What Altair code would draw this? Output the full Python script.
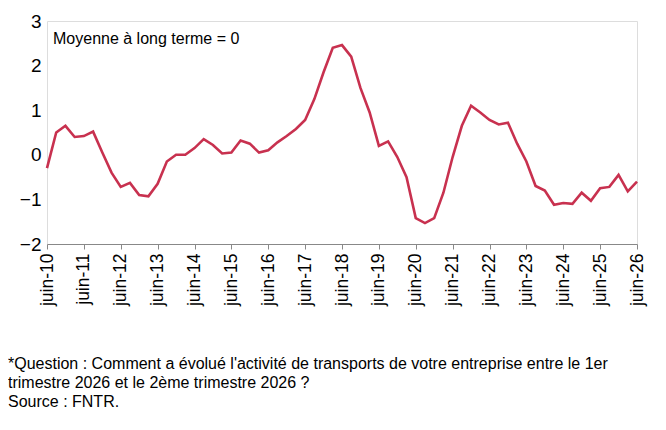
import altair as alt
import pandas as pd

values = [-0.3,0.5,0.65,0.4,0.42,0.52,0.05,-0.4,-0.72,-0.63,-0.9,-0.93,-0.65,-0.15,0.0,0.0,
          0.15,0.35,0.22,0.03,0.05,0.32,0.25,0.05,0.1,0.28,0.42,0.58,0.78,1.25,1.85,2.4,
          2.46,2.2,1.5,0.95,0.2,0.3,-0.05,-0.5,-1.42,-1.53,-1.42,-0.85,-0.05,0.65,1.1,0.95,
          0.78,0.68,0.72,0.25,-0.15,-0.7,-0.8,-1.12,-1.08,-1.1,-0.85,-1.03,-0.75,-0.72,-0.45,-0.82,-0.6]
idx = list(range(len(values)))
tick_vals = list(range(0, 65, 4))
notes = ["*Question : Comment a évolué l'activité de transports de votre entreprise entre le 1er",
         "trimestre 2026 et le 2ème trimestre 2026 ?",
         "Source : FNTR."]

df = pd.DataFrame({"i": idx, "v": values})
W, H = 590, 223

line = alt.Chart(df).mark_line(color="#C8314F", strokeWidth=2.6).encode(
    x=alt.X("i:Q", scale=alt.Scale(domain=[0, 64], nice=False),
            axis=alt.Axis(values=tick_vals, labelExpr="'juin-' + (10 + datum.value/4)",
                          labelAngle=270, labelAlign="right", labelBaseline="middle",
                          labelFontSize=17.5, labelColor="black", labelPadding=4,
                          domainColor="#888", tickColor="#888", tickSize=5, grid=False, title=None)),
    y=alt.Y("v:Q", scale=alt.Scale(domain=[-2, 3], nice=False),
            axis=alt.Axis(values=[-2,-1,0,1,2,3], labelFontSize=19, labelColor="black",
                          domain=False, ticks=False, grid=False, title=None, labelPadding=6)),
)

ann = alt.Chart(pd.DataFrame({"t": ["Moyenne à long terme = 0"]})).mark_text(
    align="left", baseline="middle", fontSize=16, font="Arial", color="black"
).encode(x=alt.value(6), y=alt.value(18), text="t:N")

ndf = pd.DataFrame({"t": notes, "y": [343, 362, 381]})
foot = alt.Chart(ndf).mark_text(align="left", baseline="middle", fontSize=16, font="Arial", color="black").encode(
    x=alt.value(-39), y=alt.Y("y:Q", scale=None), text="t:N")

chart = alt.layer(line, ann, foot).properties(
    width=W, height=H, autosize=alt.AutoSizeParams(type="none"),
    padding={"left": 39, "top": 13, "right": 20, "bottom": 190}
).configure_view(stroke=None).configure(font="Arial")

chart.save("out.html", embed_options={"renderer": "svg", "actions": False})
